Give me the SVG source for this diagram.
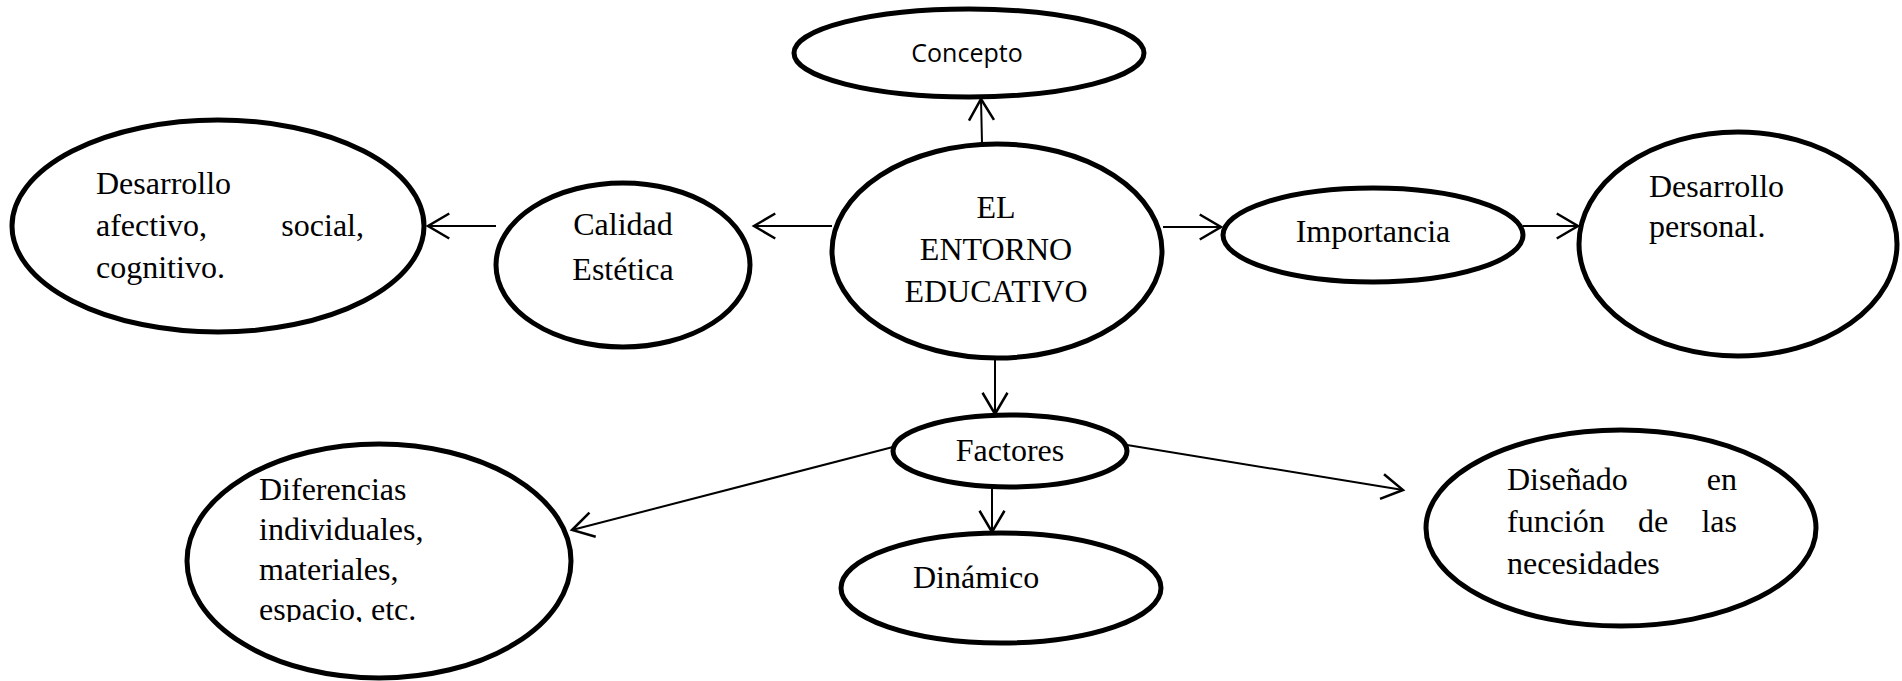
<svg xmlns="http://www.w3.org/2000/svg" width="1902" height="681" viewBox="0 0 1902 681">
<defs>
<marker id="arr" markerUnits="userSpaceOnUse" markerWidth="30" markerHeight="30" viewBox="-20 -12 22 24" refX="0" refY="0" orient="auto">
<path d="M-17,-10 L0,0 L-17,10" fill="none" stroke="#000" stroke-width="2"/>
</marker>
<clipPath id="clipDif"><rect x="0" y="0" width="700" height="622"/></clipPath>
</defs>
<style>
.n{fill:#fff;stroke:#000;stroke-width:5}
.t{font-family:"Liberation Serif","Times New Roman",serif;font-size:32px;fill:#000}
.s{font-family:"Open Sans","Noto Sans",sans-serif;font-size:25px;fill:#000}
.c{fill:none;stroke:#000;stroke-width:2;marker-end:url(#arr)}
</style>
<rect width="1902" height="681" fill="#fff"/>
<g id="connectors">
<line class="c" x1="982" y1="143" x2="981" y2="99"/>
<line class="c" x1="832" y1="226" x2="754" y2="226"/>
<line class="c" x1="496" y1="226" x2="428" y2="226"/>
<line class="c" x1="1163" y1="227" x2="1221" y2="227"/>
<line class="c" x1="1523" y1="226" x2="1578" y2="226"/>
<line class="c" x1="995" y1="358" x2="995" y2="414"/>
<line class="c" x1="992" y1="488" x2="992" y2="532"/>
<line class="c" x1="893" y1="447" x2="572" y2="530"/>
<line class="c" x1="1127" y1="445" x2="1403" y2="490"/>
</g>
<g id="concepto">
<ellipse class="n" cx="969" cy="53" rx="175" ry="44"/>
<text class="s" x="967" y="62" text-anchor="middle">Concepto</text>
</g>
<g id="entorno">
<ellipse class="n" cx="997" cy="251" rx="165" ry="107"/>
<text class="t" text-anchor="middle"><tspan x="996" y="218">EL</tspan><tspan x="996" y="260">ENTORNO</tspan><tspan x="996" y="302">EDUCATIVO</tspan></text>
</g>
<g id="calidad">
<ellipse class="n" cx="623" cy="265" rx="127" ry="82"/>
<text class="t" text-anchor="middle"><tspan x="623" y="235">Calidad</tspan><tspan x="623" y="280">Estética</tspan></text>
</g>
<g id="desarrollo-afectivo">
<ellipse class="n" cx="218" cy="226" rx="206" ry="106"/>
<text class="t"><tspan x="96" y="194">Desarrollo</tspan><tspan x="96" y="236">afectivo,</tspan><tspan x="364" y="236" text-anchor="end">social,</tspan><tspan x="96" y="278">cognitivo.</tspan></text>
</g>
<g id="importancia">
<ellipse class="n" cx="1373" cy="235" rx="150" ry="47"/>
<text class="t" x="1373" y="242" text-anchor="middle">Importancia</text>
</g>
<g id="desarrollo-personal">
<ellipse class="n" cx="1738" cy="244" rx="159" ry="112"/>
<text class="t"><tspan x="1649" y="197">Desarrollo</tspan><tspan x="1649" y="237">personal.</tspan></text>
</g>
<g id="factores">
<ellipse class="n" cx="1010" cy="451" rx="117" ry="36"/>
<text class="t" x="1010" y="461" text-anchor="middle">Factores</text>
</g>
<g id="dinamico">
<ellipse class="n" cx="1001" cy="588" rx="160" ry="55"/>
<text class="t" x="913" y="588">Dinámico</text>
</g>
<g id="diferencias">
<ellipse class="n" cx="379" cy="561" rx="192" ry="117"/>
<text class="t" clip-path="url(#clipDif)"><tspan x="259" y="500">Diferencias</tspan><tspan x="259" y="540">individuales,</tspan><tspan x="259" y="580">materiales,</tspan><tspan x="259" y="620">espacio, etc.</tspan></text>
</g>
<g id="disenado">
<ellipse class="n" cx="1621" cy="528" rx="195" ry="98"/>
<text class="t"><tspan x="1507" y="490">Diseñado</tspan><tspan x="1737" y="490" text-anchor="end">en</tspan><tspan x="1507" y="532">función</tspan><tspan x="1638" y="532">de</tspan><tspan x="1737" y="532" text-anchor="end">las</tspan><tspan x="1507" y="574">necesidades</tspan></text>
</g>
</svg>
